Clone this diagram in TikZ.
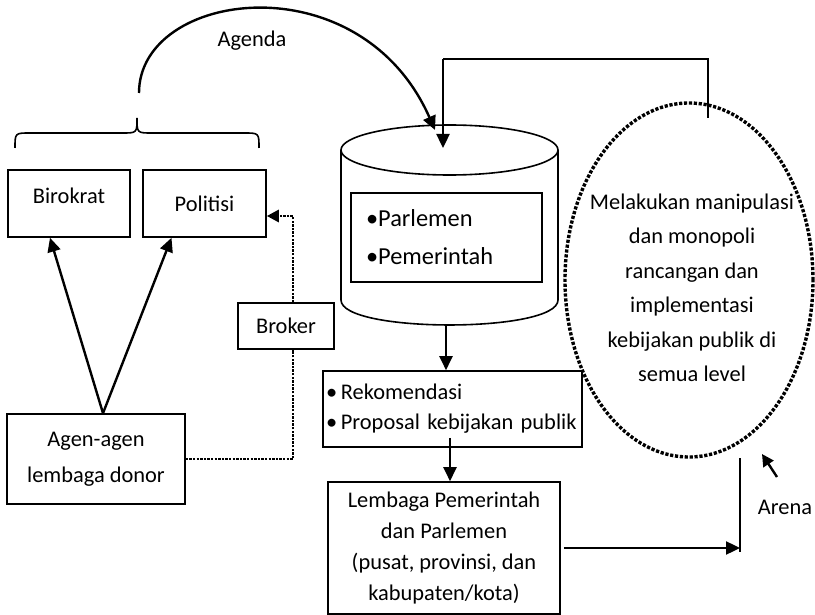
\documentclass[tikz,border=0pt]{standalone}
\usepackage{fontspec}
\setmainfont{Carlito}
\usetikzlibrary{arrows.meta,shapes.geometric}
\begin{document}
\begin{tikzpicture}[x=1pt,y=-1pt,
  box/.style={draw, line width=1.6pt, inner sep=0pt, font=\fontsize{22.4}{31}\selectfont, align=center},
  arr/.style={line width=2.4pt, -{Triangle[length=14pt,width=13pt]}},
  dotline/.style={line width=2.8pt, dash pattern=on 2.4pt off 1.2pt},
  thinline/.style={line width=1.6pt},
  txt/.style={font=\fontsize{22.4}{34.5}\selectfont, align=center, inner sep=0pt}]
\fill[white] (0,0) rectangle (815,615);
\useasboundingbox (0,0) rectangle (815,615);

% left boxes
\node[box, minimum width=122pt, minimum height=67pt, label={[txt, yshift=7.5pt]center:Birokrat}] (bir) at (69,203.5) {};
\node[box, minimum width=123pt, minimum height=67pt] (pol) at (204.5,203.5) {Politisi};
\node[box, minimum width=96pt, minimum height=46pt] (brk) at (286,326) {Broker};
\node[box, minimum width=178pt, minimum height=90pt, font=\fontsize{22.4}{35.5}\selectfont] (agen) at (96,459) {Agen-agen\\lembaga donor};

% brace
\coordinate (brtip) at (137,118);
\draw[thinline] (15,148) .. controls (15,133) .. (30,133) -- (122,133) .. controls (137,133) .. (brtip) .. controls (137,133) .. (152,133) -- (244,133) .. controls (259,133) .. (259,148);

% cylinder
\draw[thinline] (341,150) -- (341,300) .. controls (341,333.3) and (558,333.3) .. (558,300) -- (558,150);
\draw[thinline] (449.5,150) ellipse [x radius=108.5, y radius=25];
\coordinate (cylbot) at (446,325);
\coordinate (cyltop) at (443,148);
\node[box, minimum width=191pt, minimum height=89pt, text width=161pt, inner xsep=15pt, align=left, font=\fontsize{24.4}{38}\selectfont] (parl) at (446.5,237.5) {•Parlemen\\•Pemerintah};

% agenda
\coordinate (agstart) at (139,93);
\coordinate (agend) at (435,130);
\draw[line width=2.4pt, -{Triangle[length=14pt,width=13pt]}] (agstart) .. controls (139,-10) and (360,-40) .. (agend);
\node[txt] (agenda) at (252,41) {Agenda};

% middle boxes
\node[box, minimum width=259pt, minimum height=76pt, text width=253pt, inner xsep=3pt, align=left, font=\fontsize{22.4}{30}\selectfont] (rek) at (452.5,409) {•\,Rekomendasi\\•\,Proposal kebijakan publik};
\node[box, minimum width=232pt, minimum height=132pt, font=\fontsize{22.4}{31}\selectfont] (lem) at (444,548) {Lembaga Pemerintah\\dan Parlemen\\(pusat, provinsi, dan\\kabupaten/kota)};

% ellipse
\node[draw, ellipse, line width=3.4pt, dash pattern=on 3.2pt off 1.7pt, minimum width=248pt, minimum height=354pt, inner sep=0pt,
  label={[txt, yshift=-8pt, xshift=3pt]center:{Melakukan manipulasi\\dan monopoli\\rancangan dan\\implementasi\\kebijakan publik di\\semua level}}] (arena) at (689,280) {};

% arena
\node[txt] (arenatxt) at (785,507) {Arena};
\coordinate (arenatail) at (777,477);
\coordinate (arenatip) at (762,454);
\draw[line width=2.4pt, -{Triangle[length=12pt,width=12pt]}] (arenatail) -- (arenatip);
\coordinate (vtop) at (740,458);
\coordinate (vbot) at (740,552);
\draw[line width=1.8pt] (vtop) -- (vbot);
\draw[arr] ([xshift=3pt]lem.east) -- (lem.east -| vtop);

% feedback
\coordinate (fb1) at (708,118);
\coordinate (fb2) at (708,59);
\coordinate (fb3) at (443,59);
\draw[thinline] (fb1) -- (fb2) -- (fb3);
\draw[arr] (fb3) -- (cyltop);

% flow arrows
\draw[arr] (cylbot) -- ([xshift=-6.5pt]rek.north);
\draw[arr] ([xshift=-2.5pt,yshift=10pt]rek.south) -- ([xshift=6pt]lem.north);

% donor arrows
\draw[arr] ([xshift=7pt]agen.north) -- ([xshift=-19pt]bir.south);
\draw[arr] ([xshift=7pt]agen.north) -- ([xshift=-33pt]pol.south);

% dotted broker lines
\draw[dotline] (agen.east) -| ([xshift=7pt]brk.south);
\draw[dotline, -{Triangle[length=12pt,width=12pt]}] ([xshift=7pt]brk.north) |- ([yshift=-12.5pt]pol.east);
\end{tikzpicture}
\end{document}
